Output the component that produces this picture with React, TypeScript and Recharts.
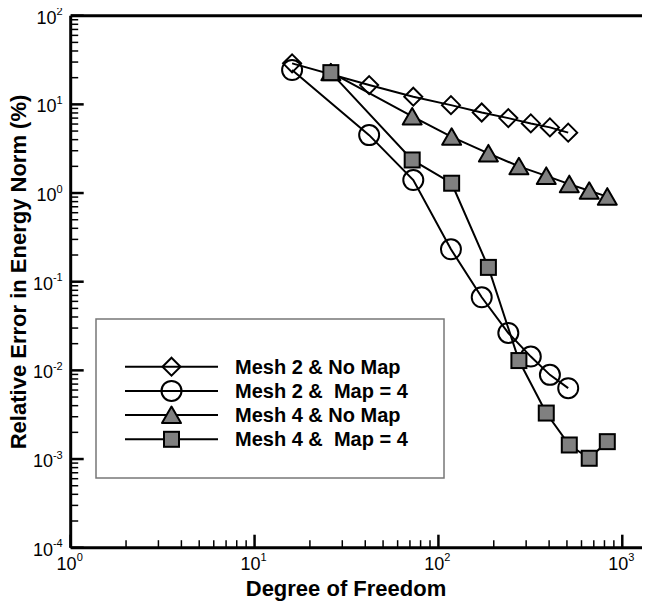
import { ScatterChart, Scatter, XAxis, YAxis, ReferenceLine } from 'recharts';

// Degree of freedom for each mesh
const dofMesh2 = [16, 42, 73, 117, 172, 240, 318, 404, 508];
const dofMesh4 = [26, 72, 118, 187, 274, 386, 515, 661, 829];

// Relative error in energy norm (%)
const errMesh2NoMap = [29.0, 16.5, 12.2, 9.8, 8.1, 7.0, 6.1, 5.5, 4.8];
const errMesh2Map4 = [24.4, 4.5, 1.4, 0.232, 0.0667, 0.0264, 0.0143, 0.0089, 0.0063];
const errMesh4NoMap = [23.0, 7.3, 4.3, 2.8, 2.0, 1.56, 1.26, 1.06, 0.91];
const errMesh4Map4 = [22.8, 2.36, 1.29, 0.145, 0.0129, 0.0033, 0.00144, 0.00102, 0.00157];

const seriesNames = ['Mesh 2 & No Map', 'Mesh 2 &  Map = 4', 'Mesh 4 & No Map', 'Mesh 4 &  Map = 4'];

const xMajor = [1, 10, 100, 1000];
const yMajor = [1e-4, 1e-3, 1e-2, 1e-1, 1, 10, 100];
const minorSteps = [2, 3, 4, 5, 6, 7, 8, 9];
const xMax = 1415;

const xTicks = [...xMajor, ...xMajor.flatMap(d => minorSteps.map(m => m * d))].filter(v => v <= xMax);
const yTicks = [...yMajor, ...yMajor.slice(0, -1).flatMap(d => minorSteps.map(m => m * d))];

const toPoints = (xs: number[], ys: number[]) => xs.map((x, i) => ({ x, y: ys[i] }));

const FONT = '"Liberation Sans", Arial, Helvetica, sans-serif';
const GRAY = '#808080';

const isMajor = (v: number, majors: number[]) => majors.some(m => Math.abs(v / m - 1) < 1e-6);

type Kind = 'diamond' | 'circle' | 'triangle' | 'square';

const Marker = ({ kind, cx, cy }: { kind: Kind; cx: number; cy: number }) => {
  if (kind === 'diamond') {
    return <polygon points={`${cx},${cy - 9} ${cx + 9},${cy} ${cx},${cy + 9} ${cx - 9},${cy}`} fill="none" stroke="#000" strokeWidth={2} />;
  }
  if (kind === 'circle') {
    return <circle cx={cx} cy={cy} r={10} fill="none" stroke="#000" strokeWidth={2} />;
  }
  if (kind === 'triangle') {
    return <polygon points={`${cx},${cy - 8.5} ${cx + 9.5},${cy + 8} ${cx - 9.5},${cy + 8}`} fill={GRAY} stroke="#000" strokeWidth={2} strokeLinejoin="round" />;
  }
  return <rect x={cx - 7.5} y={cy - 7.5} width={15} height={15} fill={GRAY} stroke="#000" strokeWidth={2} />;
};

const XTick = ({ x, y, payload }: any) => {
  const v = payload.value;
  const major = isMajor(v, xMajor);
  return (
    <g>
      <line x1={x} y1={y} x2={x} y2={y - (major ? 13 : 7.5)} stroke="#000" strokeWidth={major ? 2.5 : 1.5} />
      {major && (
        <text x={x - 1} y={y + 22} textAnchor="middle" fontSize={18} fill="#000" fontFamily={FONT}>
          10<tspan dy={-9} fontSize={11}>{Math.round(Math.log10(v))}</tspan>
        </text>
      )}
    </g>
  );
};

const YTick = ({ x, y, payload }: any) => {
  const v = payload.value;
  const major = isMajor(v, yMajor);
  return (
    <g>
      <line x1={x} y1={y} x2={x + (major ? 13 : 7.5)} y2={y} stroke="#000" strokeWidth={major ? 2.5 : 1.5} />
      {major && (
        <text x={x - 8} y={y + 8} textAnchor="end" fontSize={18} fill="#000" fontFamily={FONT}>
          10<tspan dy={-8.5} fontSize={11}>{Math.round(Math.log10(v))}</tspan>
        </text>
      )}
    </g>
  );
};

const series: { name: string; kind: Kind; data: { x: number; y: number }[] }[] = [
  { name: seriesNames[0], kind: 'diamond', data: toPoints(dofMesh2, errMesh2NoMap) },
  { name: seriesNames[1], kind: 'circle', data: toPoints(dofMesh2, errMesh2Map4) },
  { name: seriesNames[2], kind: 'triangle', data: toPoints(dofMesh4, errMesh4NoMap) },
  { name: seriesNames[3], kind: 'square', data: toPoints(dofMesh4, errMesh4Map4) },
];

export default function App() {
  return (
    <div style={{ position: 'relative', width: 650, height: 602, margin: '-8px 0 0 -8px', fontFamily: FONT }}>
      <ScatterChart width={650} height={602} margin={{ top: 15.7, right: 0, bottom: 24.3, left: 0 }}>
        <XAxis
          type="number"
          dataKey="x"
          scale="log"
          domain={[1, xMax]}
          allowDataOverflow
          ticks={xTicks}
          interval={0}
          tickSize={0}
          tickMargin={0}
          tick={<XTick />}
          axisLine={{ stroke: '#000', strokeWidth: 3 }}
          height={30}
        />
        <YAxis
          type="number"
          dataKey="y"
          scale="log"
          domain={[1e-4, 100]}
          allowDataOverflow
          ticks={yTicks}
          interval={0}
          tickSize={0}
          tickMargin={0}
          tick={<YTick />}
          axisLine={{ stroke: '#000', strokeWidth: 3 }}
          width={70.7}
        />
        <ReferenceLine y={100} stroke="#000" strokeWidth={3} />
        {series.map(s => (
          <Scatter
            key={s.name}
            name={s.name}
            data={s.data}
            line={{ stroke: '#000', strokeWidth: 2 }}
            lineType="joint"
            isAnimationActive={false}
            shape={(p: any) => <Marker kind={s.kind} cx={p.cx} cy={p.cy} />}
          />
        ))}
      </ScatterChart>
      <svg width={650} height={602} style={{ position: 'absolute', left: 0, top: 0, pointerEvents: 'none' }}>
        <text x={26} y={272} transform="rotate(-90 26 272)" textAnchor="middle" fontSize={22} fontWeight="bold" fontFamily={FONT} fill="#000">
          Relative Error in Energy Norm (%)
        </text>
        <text x={346} y={596} textAnchor="middle" fontSize={22} fontWeight="bold" fontFamily={FONT} fill="#000">
          Degree of Freedom
        </text>
        <g transform="translate(96 319)">
          <rect x={0} y={0} width={348} height={159} fill="#fff" stroke="#777" strokeWidth={1.5} />
          {series.map((s, i) => {
            const ry = 47.7 + i * 24.2;
            return (
              <g key={s.name}>
                <line x1={29} y1={ry} x2={122} y2={ry} stroke="#000" strokeWidth={2} />
                <Marker kind={s.kind} cx={75.5} cy={ry} />
                <text x={139} y={ry + 7} fontSize={20} fontWeight="bold" fontFamily={FONT} fill="#000" style={{ whiteSpace: 'pre' }}>
                  {s.name}
                </text>
              </g>
            );
          })}
        </g>
      </svg>
    </div>
  );
}
